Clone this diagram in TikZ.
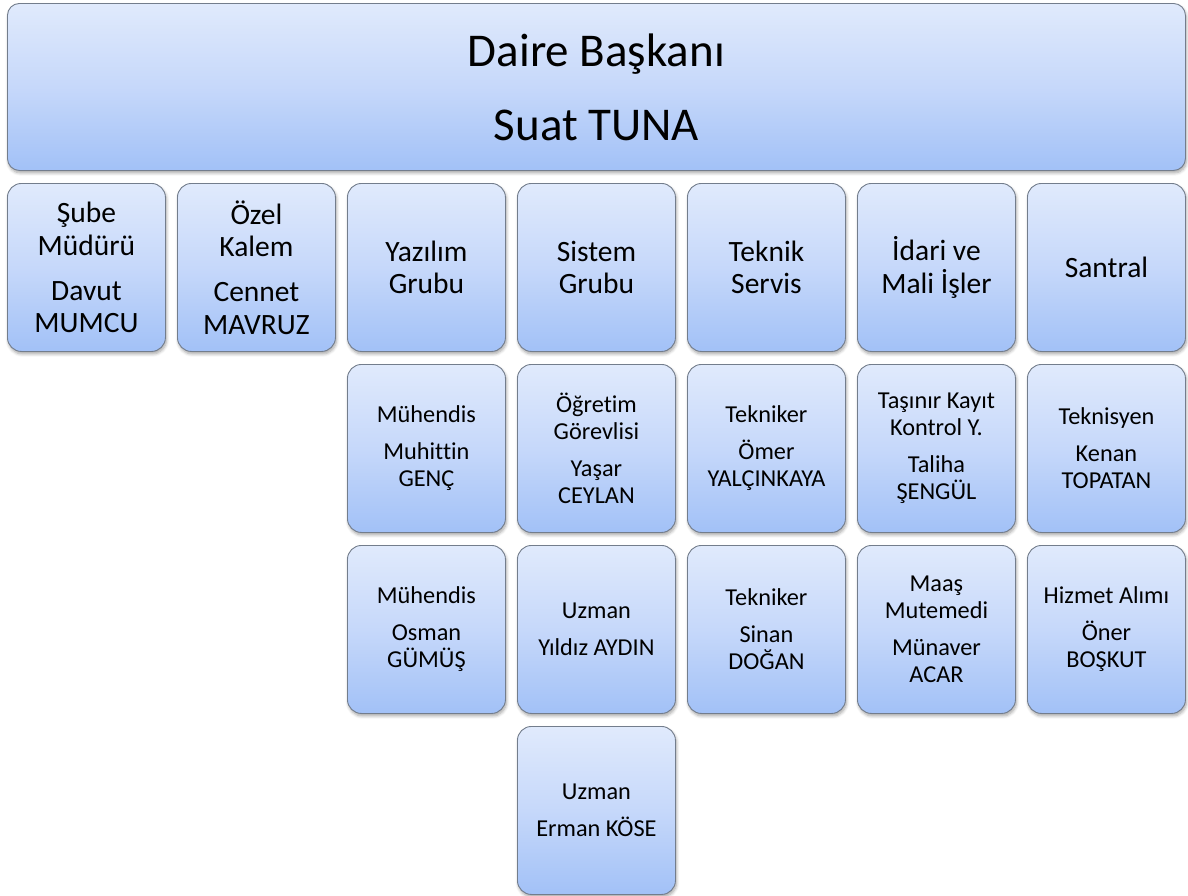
\documentclass[tikz,border=0pt]{standalone}
\usepackage{fontspec}
\setmainfont[Ligatures=NoCommon]{Carlito}
\usetikzlibrary{shadows.blur}
\definecolor{gtop}{HTML}{E0EAFC}
\definecolor{gmid}{HTML}{C6D8FA}
\definecolor{gbot}{HTML}{A2C1F7}
\definecolor{boxborder}{HTML}{737D8C}
\tikzset{
  orgbox/.style={draw=boxborder, line width=0.9pt, rounded corners=14pt,
    top color=gtop, bottom color=gbot, middle color=gmid,
    blur shadow={shadow xshift=1pt, shadow yshift=-2.5pt, shadow blur steps=6, shadow blur radius=3pt, shadow opacity=35},
    anchor=north west, align=center, inner sep=0pt,
    minimum width=158pt, minimum height=168pt, text=black},
  lvlone/.style={orgbox, font=\fontsize{29.5}{32.5}\selectfont},
  lvltwo/.style={orgbox, font=\fontsize{24.3}{27}\selectfont},
  headbox/.style={orgbox, rounded corners=12pt, minimum width=1178pt, minimum height=167pt,
    font=\fontsize{47}{57}\selectfont}
}
\begin{document}
\begin{tikzpicture}[x=1pt,y=-1pt]
\useasboundingbox (0,0) rectangle (1188,895);
\node[headbox] (head) at (7,3) {Daire Başkanı\\[17pt]Suat TUNA};
% row 1
\node[lvlone] (r1c0) at (7,183) {Şube\\Müdürü\\[12.5pt]Davut\\MUMCU};
\node[lvlone] (r1c1) at (177,183) {Özel\\Kalem\\[12.5pt]Cennet\\MAVRUZ};
\node[lvlone] (r1c2) at (347,183) {Yazılım\\Grubu};
\node[lvlone] (r1c3) at (517,183) {Sistem\\Grubu};
\node[lvlone] (r1c4) at (687,183) {Teknik\\Servis};
\node[lvlone] (r1c5) at (857,183) {İdari ve\\Mali İşler};
\node[lvlone] (r1c6) at (1027,183) {Santral};
% row 2
\node[lvltwo] (r2c2) at (347,364) {Mühendis\\[10pt]Muhittin\\GENÇ};
\node[lvltwo] (r2c3) at (517,364) {Öğretim\\Görevlisi\\[10pt]Yaşar\\CEYLAN};
\node[lvltwo] (r2c4) at (687,364) {Tekniker\\[10pt]Ömer\\YALÇINKAYA};
\node[lvltwo] (r2c5) at (857,364) {Taşınır Kayıt\\Kontrol Y.\\[10pt]Taliha\\ŞENGÜL};
\node[lvltwo] (r2c6) at (1027,364) {Teknisyen\\[10pt]Kenan\\TOPATAN};
% row 3
\node[lvltwo] (r3c2) at (347,545) {Mühendis\\[10pt]Osman\\GÜMÜŞ};
\node[lvltwo] (r3c3) at (517,545) {Uzman\\[10pt]Yıldız AYDIN};
\node[lvltwo] (r3c4) at (687,545) {Tekniker\\[10pt]Sinan\\DOĞAN};
\node[lvltwo] (r3c5) at (857,545) {Maaş\\Mutemedi\\[10pt]Münaver\\ACAR};
\node[lvltwo] (r3c6) at (1027,545) {Hizmet Alımı\\[10pt]Öner\\BOŞKUT};
% row 4
\node[lvltwo] (r4c3) at (517,726) {Uzman\\[10pt]Erman KÖSE};
\end{tikzpicture}
\end{document}
